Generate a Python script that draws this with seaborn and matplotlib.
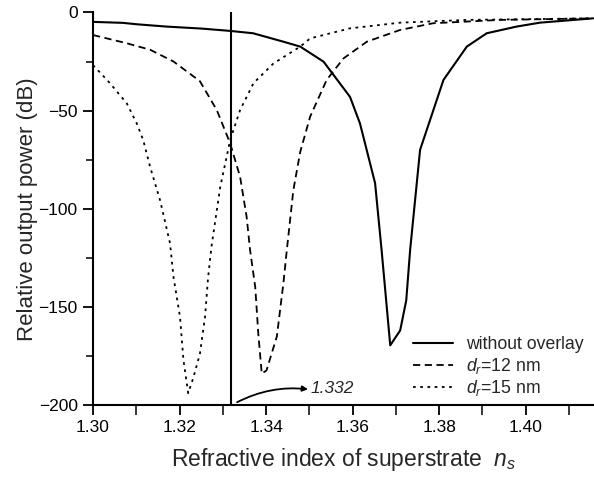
import matplotlib
matplotlib.use("Agg")
import matplotlib.pyplot as plt
import seaborn as sns
import numpy as np
from matplotlib.ticker import MultipleLocator

# refractive index of superstrate vs. relative output power (dB)
n_bare = [1.3000, 1.3069, 1.3100, 1.3170, 1.3250, 1.3317, 1.3370, 1.3440, 1.3479, 1.3533,
          1.3594, 1.3617, 1.3652, 1.3667, 1.3687, 1.3710, 1.3724, 1.3733, 1.3756, 1.3810,
          1.3864, 1.3910, 1.3979, 1.4033, 1.4100, 1.4156]
p_bare = [-4.8, -5.3, -6.0, -7.2, -8.2, -9.4, -10.6, -14.9, -17.4, -25.1,
          -43.0, -56.5, -87.0, -121.0, -169.6, -162.0, -146.7, -121.0, -70.0, -34.4,
          -17.4, -10.6, -7.2, -5.2, -4.0, -3.0]

n_d12 = [1.3000, 1.3078, 1.3132, 1.3186, 1.3247, 1.3286, 1.3317, 1.3340, 1.3355, 1.3363,
         1.3375, 1.3382, 1.3390, 1.3401, 1.3425, 1.3440, 1.3448, 1.3463, 1.3479, 1.3502,
         1.3540, 1.3579, 1.3633, 1.3710, 1.3786, 1.3940, 1.4156]
p_d12 = [-11.5, -15.7, -19.0, -25.0, -35.0, -49.7, -66.7, -83.8, -104.0, -121.0,
         -140.0, -163.6, -184.0, -182.4, -165.0, -138.0, -121.0, -90.6, -71.0, -53.0,
         -34.4, -23.4, -14.9, -8.9, -5.5, -3.8, -3.0]

n_d15 = [1.3000, 1.3039, 1.3078, 1.3101, 1.3116, 1.3132, 1.3155, 1.3178, 1.3186, 1.3201,
         1.3209, 1.3220, 1.3232, 1.3247, 1.3259, 1.3266, 1.3274, 1.3294, 1.3317, 1.3340,
         1.3371, 1.3417, 1.3479, 1.3502, 1.3594, 1.3710, 1.3864, 1.4156]
p_d15 = [-26.8, -36.0, -46.3, -56.5, -65.0, -78.7, -95.7, -117.6, -134.8, -155.0,
         -177.0, -194.0, -186.0, -174.0, -155.0, -135.0, -119.0, -89.0, -65.0, -49.7,
         -36.0, -26.0, -17.4, -13.2, -8.1, -5.2, -3.8, -3.0]

n_marker = 1.332

sns.set_theme(style="ticks")
plt.rcParams['font.family'] = ['Liberation Sans', 'DejaVu Sans']
plt.rcParams['mathtext.fontset'] = 'custom'
plt.rcParams['mathtext.it'] = 'Liberation Sans:italic'
plt.rcParams['mathtext.rm'] = 'Liberation Sans'

fig = plt.figure(figsize=(5.94, 4.79), dpi=100)
ax = fig.add_axes([0.1566, 0.1545, 0.8434, 0.8195])

sns.lineplot(x=n_bare, y=p_bare, ax=ax, color='black', lw=1.5, label='without overlay')
sns.lineplot(x=n_d12, y=p_d12, ax=ax, color='black', lw=1.3, linestyle=(0, (4, 2.5)),
             label=r'$d_r$=12 nm')
sns.lineplot(x=n_d15, y=p_d15, ax=ax, color='black', lw=1.3, linestyle=(0, (1.5, 2.5)),
             label=r'$d_r$=15 nm')

ax.axvline(n_marker, color='black', lw=1.5)

ax.text(1.3503, -191.5, '1.332', fontsize=12.5, va='center', ha='left', style='italic')
ax.annotate('', xy=(1.3497, -192), xytext=(1.3333, -198.6),
            arrowprops=dict(arrowstyle='-|>', color='black', lw=1.3,
                            connectionstyle='arc3,rad=-0.15', mutation_scale=8,
                            shrinkA=0, shrinkB=0))

ax.set_xlim(1.30, 1.4158)
ax.set_ylim(-200, 0)
ax.xaxis.set_major_locator(MultipleLocator(0.02))
ax.xaxis.set_minor_locator(MultipleLocator(0.01))
ax.yaxis.set_major_locator(MultipleLocator(50))
ax.yaxis.set_minor_locator(MultipleLocator(25))
ax.xaxis.set_major_formatter(matplotlib.ticker.FormatStrFormatter('%.2f'))
ax.tick_params(which='major', direction='out', length=7, width=1.3, labelsize=12.5,
               colors='black', pad=4)
ax.tick_params(which='minor', direction='out', length=5, width=1.3)
ax.tick_params(axis='x', which='minor', length=7)

sns.despine(ax=ax)
for s in ['left', 'bottom']:
    ax.spines[s].set_linewidth(1.5)
    ax.spines[s].set_color('black')

ax.set_xlabel(r'Refractive index of superstrate  $n_s$', fontsize=16.5, labelpad=8)
ax.set_ylabel('Relative output power (dB)', fontsize=16, labelpad=0)

ax.legend(loc='lower right', frameon=False, fontsize=12.7, handlelength=2.3,
          handletextpad=0.7, labelspacing=0.15, borderaxespad=0.2,
          bbox_to_anchor=(1.0, -0.01))

fig.savefig('out.png', dpi=100)
